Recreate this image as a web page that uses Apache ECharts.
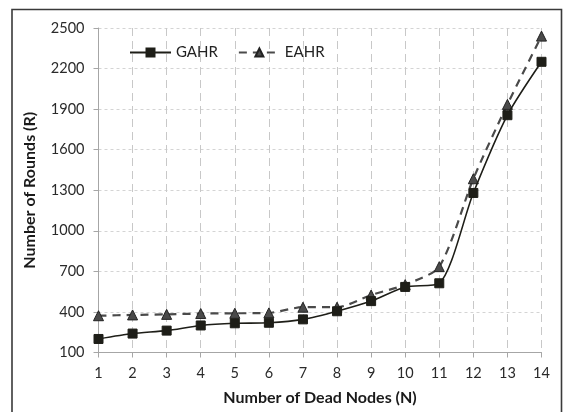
<!DOCTYPE html>
<html>
<head>
<meta charset="utf-8">
<script src="https://cdn.jsdelivr.net/npm/echarts@6/dist/echarts.min.js"></script>
<style>
  html, body { margin: 0; padding: 0; background: #fff; }
  #chart { width: 569px; height: 412px; }
</style>
</head>
<body>
<div id="chart"></div>
<script>
// Rounds reached as nodes die, for the two protocols
const deadNodes = ['1', '2', '3', '4', '5', '6', '7', '8', '9', '10', '11', '12', '13', '14'];
const gahrRounds = [200, 240, 262, 300, 316, 320, 345, 405, 480, 585, 612, 1280, 1855, 2250];
const eahrRounds = [372, 378, 382, 388, 390, 393, 435, 435, 525, 602, 735, 1385, 1935, 2440];
const seriesNames = ['GAHR', 'EAHR'];

const FONT = 'Lato';
const chart = echarts.init(document.getElementById('chart'));

chart.setOption({
  animation: false,
  backgroundColor: '#fff',
  textStyle: { fontFamily: FONT },
  graphic: [{
    type: 'rect',
    shape: { x: 12, y: 9.5, width: 549.5, height: 410 },
    style: { fill: 'none', stroke: '#3a3a3a', lineWidth: 1.6 },
    silent: true,
    z: -1
  }],
  grid: { left: 98.5, right: 27.5, top: 28, bottom: 59.5, containLabel: false },
  legend: {
    left: 124,
    top: 40,
    itemWidth: 41,
    itemHeight: 10,
    itemGap: 20,
    textStyle: { fontFamily: FONT, fontSize: 15, color: '#222' },
    data: seriesNames
  },
  xAxis: {
    type: 'category',
    data: deadNodes,
    boundaryGap: false,
    name: 'Number of Dead Nodes (N)',
    nameLocation: 'middle',
    nameGap: 37,
    nameTextStyle: { fontFamily: FONT, fontSize: 16, fontWeight: 'bold', color: '#1a1a1a' },
    axisLine: { lineStyle: { color: '#a6a6a6', width: 1 } },
    axisTick: { show: true, length: 5, lineStyle: { color: '#a6a6a6' } },
    axisLabel: { fontFamily: FONT, fontSize: 14.5, color: '#2a2a2a', margin: 13 },
    splitLine: { show: true, lineStyle: { color: '#c8c8c8', type: [8, 5], width: 1 } }
  },
  yAxis: {
    type: 'value',
    min: 100,
    max: 2500,
    interval: 300,
    name: 'Number of Rounds (R)',
    nameLocation: 'middle',
    nameGap: 61,
    nameTextStyle: { fontFamily: FONT, fontSize: 16, fontWeight: 'bold', color: '#1a1a1a' },
    axisLine: { show: true, lineStyle: { color: '#a6a6a6', width: 1 } },
    axisTick: { show: true, length: 5, lineStyle: { color: '#a6a6a6' } },
    axisLabel: {
      fontFamily: FONT, fontSize: 14.5, color: '#2a2a2a', margin: 14,
      formatter: (v) => String(v)
    },
    splitLine: { show: true, lineStyle: { color: '#d4d4d4', type: [3, 3], width: 1 } }
  },
  series: [
    {
      name: seriesNames[0],
      type: 'line',
      data: gahrRounds,
      smooth: 0.25,
      symbol: 'rect',
      symbolSize: 9,
      z: 3,
      lineStyle: { color: '#1e1e18', width: 1.6, type: 'solid' },
      itemStyle: { color: '#1e1e18', borderColor: '#1e1e18', borderWidth: 1 }
    },
    {
      name: seriesNames[1],
      type: 'line',
      data: eahrRounds,
      smooth: 0.25,
      symbol: 'triangle',
      symbolSize: 10,
      z: 2,
      lineStyle: { color: '#4a4a4a', width: 2.2, type: [8, 6] },
      itemStyle: { color: '#4a4a4a', borderColor: '#222', borderWidth: 1 }
    }
  ]
});
</script>
</body>
</html>
